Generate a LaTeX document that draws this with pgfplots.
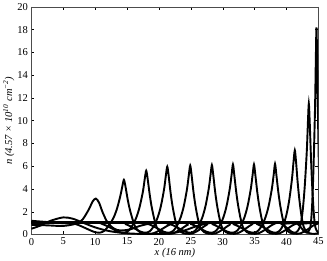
\documentclass[border=0pt]{standalone}
\usepackage{pgfplots}
\pgfplotsset{compat=1.18}
\usepackage{fontspec}
\setmainfont{Liberation Serif}
\begin{document}
\fontsize{10}{12}\selectfont
\begin{tikzpicture}
\begin{axis}[
  scale only axis,
  width=285bp, height=226bp,
  xmin=0, xmax=45, ymin=0, ymax=20,
  xtick={0,5,...,45}, ytick={0,2,...,20},
  tick align=inside, tick pos=both,
  major tick length=3bp,
  tick style={black, line width=0.4pt},
  axis line style={black!70, line width=0.6pt},
  /pgf/number format/assume math mode=true,
  ticklabel style={font=\fontsize{10.5}{12}\selectfont},
  xlabel={\textit{x (16 nm)}},
  ylabel={\textit{n (4.57 × 10\textsuperscript{10} cm\textsuperscript{−2})}},
  label style={font=\fontsize{10.5}{12}\selectfont},
  xlabel style={yshift=4pt},
  ylabel style={yshift=-4pt},
  curve/.style={black, solid, no markers, line width=1.9pt, smooth, tension=0.5},
]
% near-initial profiles
\addplot[curve] coordinates {(0,1.2)(3,1.07)(6,0.97)(9,1.05)(12,1.05)(45,1.05)};
\addplot[curve] coordinates {(0,0.5)(1.5,0.8)(3,1.2)(5,1.5)(6.5,1.38)(8,1.05)(10,0.62)(12,0.32)(14,0.15)(16,0.07)(18,0.04)(20,0.04)(22,0.1)(24,0.35)(26,0.75)(28,1.0)(30,1.05)(45,1.05)};
\addplot[curve] coordinates {(0,0.85)(2.5,0.8)(5,0.75)(7,0.95)(8,1.3)(9,2.2)(9.6,2.9)(10.1,3.15)(10.6,2.8)(11.2,1.9)(12,1.0)(13,0.5)(14,0.35)(15.5,0.45)(17,0.75)(19,1.0)(21,1.05)(45,1.05)};
% peak 14.5
\addplot[curve] coordinates {(0,1.05)(5.3,1.05)(7.0,0.9)(8.5,0.55)(9.7,0.25)(10.7,0.15)(11.5,0.35)(12.2,0.85)(12.8,1.38)(13.35,2.14)(13.9,3.28)(14.27,4.27)(14.5,4.8)(14.73,4.27)(15.08,3.13)(15.42,2.22)(15.88,1.3)(16.34,0.6)(17.03,0.2)(17.95,0.06)(19.1,0.1)(20.25,0.4)(21.63,0.85)(23.1,1.05)(45,1.05)};
% peak 18
\addplot[curve] coordinates {(0,1.05)(9.6,1.05)(11.18,0.9)(12.54,0.55)(13.59,0.25)(14.54,0.15)(15.27,0.35)(15.9,0.85)(16.43,1.46)(16.95,2.38)(17.48,3.76)(17.79,4.96)(18,5.6)(18.21,4.96)(18.53,3.58)(18.84,2.47)(19.26,1.37)(19.68,0.6)(20.31,0.2)(21.15,0.06)(22.2,0.1)(23.25,0.4)(24.51,0.85)(25.88,1.05)(45,1.05)};
% peak 21.3
\addplot[curve] coordinates {(0,1.05)(13.3,1.05)(14.8,0.9)(16.1,0.55)(17.1,0.25)(18.0,0.15)(18.7,0.35)(19.3,0.85)(19.8,1.5)(20.3,2.49)(20.8,3.97)(21.1,5.26)(21.3,5.95)(21.5,5.26)(21.8,3.77)(22.1,2.58)(22.5,1.4)(22.9,0.6)(23.5,0.2)(24.3,0.06)(25.3,0.1)(26.3,0.4)(27.5,0.85)(28.8,1.05)(45,1.05)};
% peak 24.9
\addplot[curve] coordinates {(0,1.05)(16.9,1.05)(18.4,0.9)(19.7,0.55)(20.7,0.25)(21.6,0.15)(22.3,0.35)(22.9,0.85)(23.4,1.5)(23.9,2.5)(24.4,4.0)(24.7,5.3)(24.9,6.05)(25.1,5.3)(25.4,3.8)(25.7,2.6)(26.1,1.4)(26.5,0.6)(27.1,0.2)(27.9,0.06)(28.9,0.1)(29.9,0.4)(31.1,0.85)(32.4,1.05)(45,1.05)};
% peak 28.3
\addplot[curve] coordinates {(0,1.05)(20.3,1.05)(21.8,0.9)(23.1,0.55)(24.1,0.25)(25.0,0.15)(25.7,0.35)(26.3,0.85)(26.8,1.5)(27.3,2.5)(27.8,4.0)(28.1,5.3)(28.3,6.1)(28.5,5.3)(28.8,3.8)(29.1,2.6)(29.5,1.4)(29.9,0.6)(30.5,0.2)(31.3,0.06)(32.3,0.1)(33.3,0.4)(34.5,0.85)(35.8,1.05)(45,1.05)};
% peak 31.6
\addplot[curve] coordinates {(0,1.05)(23.6,1.05)(25.1,0.9)(26.4,0.55)(27.4,0.25)(28.3,0.15)(29.0,0.35)(29.6,0.85)(30.1,1.5)(30.6,2.5)(31.1,4.0)(31.4,5.3)(31.6,6.15)(31.8,5.3)(32.1,3.8)(32.4,2.6)(32.8,1.4)(33.2,0.6)(33.8,0.2)(34.6,0.06)(35.6,0.1)(36.6,0.4)(37.8,0.85)(39.1,1.05)(45,1.05)};
% peak 34.9
\addplot[curve] coordinates {(0,1.05)(26.9,1.05)(28.4,0.9)(29.7,0.55)(30.7,0.25)(31.6,0.15)(32.3,0.35)(32.9,0.85)(33.4,1.5)(33.9,2.5)(34.4,4.0)(34.7,5.3)(34.9,6.15)(35.1,5.3)(35.4,3.8)(35.7,2.6)(36.1,1.4)(36.5,0.6)(37.1,0.2)(37.9,0.06)(38.9,0.1)(39.9,0.4)(41.1,0.85)(42.4,1.05)(45,1.05)};
% peak 38.2
\addplot[curve] coordinates {(0,1.05)(30.2,1.05)(31.7,0.9)(33.0,0.55)(34.0,0.25)(34.9,0.15)(35.6,0.35)(36.2,0.85)(36.7,1.5)(37.2,2.5)(37.7,4.0)(38.0,5.3)(38.2,6.2)(38.4,5.3)(38.7,3.8)(39.0,2.6)(39.4,1.4)(39.8,0.6)(40.4,0.2)(41.2,0.06)(42.2,0.1)(43.2,0.4)(44.4,0.85)(45.7,1.05)};
% peak 41.3
\addplot[curve] coordinates {(0,1.05)(34.1,1.05)(35.45,0.9)(36.62,0.55)(37.52,0.25)(38.33,0.15)(38.96,0.35)(39.5,0.85)(39.95,1.64)(40.4,2.92)(40.85,4.84)(41.12,6.5)(41.3,7.4)(41.48,6.5)(41.75,4.58)(42.02,3.05)(42.38,1.51)(42.74,0.6)(43.28,0.2)(44.0,0.06)(44.9,0.1)(45.8,0.4)};
% peak 43.5
\addplot[curve] coordinates {(0,1.05)(38.3,1.05)(39.28,0.9)(40.12,0.55)(40.77,0.25)(41.36,0.15)(41.81,0.35)(42.2,0.85)(42.53,2.05)(42.85,4.15)(43.18,7.3)(43.37,10.03)(43.5,11.5)(43.63,10.03)(43.83,6.88)(44.02,4.36)(44.28,1.84)(44.54,0.6)(44.93,0.2)(45.45,0.06)};
% peak 44.7
\addplot[curve] coordinates {(0,1.05)(41.1,1.05)(41.78,0.9)(42.36,0.55)(42.81,0.25)(43.22,0.15)(43.53,0.35)(43.8,0.85)(44.03,2.72)(44.25,6.16)(44.48,11.32)(44.61,15.8)(44.7,18.2)(44.79,15.8)(44.93,10.63)(45.06,6.5)(45.24,2.38)(45.42,0.6)};
\end{axis}
\end{tikzpicture}
\end{document}
